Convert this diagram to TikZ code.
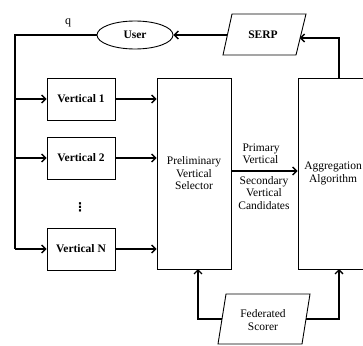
\documentclass[tikz,border=0pt]{standalone}
\usepackage{fontspec}
\setmainfont{Liberation Serif}
\newfontfamily\symfont{DejaVu Sans}
\usetikzlibrary{arrows.meta,shapes.geometric}
\tikzset{
  conn/.style={line width=1.5pt},
  arr/.style={line width=1.5pt,-{Straight Barb[length=4pt,width=8pt,line width=1.3pt]}},
  box/.style={draw,line width=0.9pt,align=center,font=\fontsize{11.5}{12.5}\selectfont},
  bbox/.style={box,font=\fontsize{11.5}{12.5}\selectfont\bfseries},
  para/.style={line width=0.9pt},
  lbl/.style={align=center,font=\fontsize{11.5}{12.5}\selectfont}
}
\begin{document}
\begin{tikzpicture}[x=1pt,y=-1pt]
\useasboundingbox[fill=white] (0,0) rectangle (363,345);
% nodes
\node[bbox,ellipse,minimum width=76pt,minimum height=28pt,inner sep=0pt] (user) at (135,35) {User};
\node[lbl,font=\fontsize{11.5}{12.5}\selectfont\bfseries] (serp) at (263,35) {SERP};
\draw[para] (223,55) -- (232,14) -- (306,14) -- (296,55) -- cycle;
\coordinate (serpL) at (227.4,35);
\coordinate (serpR) at (299.7,38);
\node[bbox,minimum width=68pt,minimum height=42pt] (v1) at (81,99) {Vertical 1};
\node[bbox,minimum width=68pt,minimum height=42pt] (v2) at (81,158) {Vertical 2};
\node[lbl,font=\fontsize{12}{12}\symfont\bfseries] (dots) at (80,207) {⋮};
\node[bbox,minimum width=68pt,minimum height=42pt] (vN) at (81,249) {Vertical N};
\node[box,minimum width=74pt,minimum height=191pt] (pre) at (194,173.5) {Preliminary\\Vertical\\Selector};
\node[box,minimum width=70pt,minimum height=191pt] (agg) at (333,173.5) {Aggregation\\Algorithm};
\node[lbl,align=left,anchor=west] (prim) at (239,154) {Primary\\Vertical};
\node[lbl] (sec) at (264,193) {Secondary\\Vertical\\Candidates};
\node[lbl] (fed) at (263,320) {Federated\\Scorer};
\draw[para] (218,344) -- (226,294) -- (310,294) -- (302,344) -- cycle;
\coordinate (fedL) at (222,319);
\coordinate (fedR) at (306,319);
\node[lbl,font=\fontsize{12}{12}\selectfont] (q) at (68,23) {q};
% connectors
\coordinate (tl) at (15,35);
\coordinate (bl) at (15,249);
\draw[conn] (user.west) -- (tl) -- (bl);
\draw[arr] (tl |- v1) -- (v1.west);
\draw[arr] (tl |- v2) -- (v2.west);
\draw[arr] (bl) -- (vN.west);
\draw[arr] (v1.east) -- (v1.east -| pre.west);
\draw[arr] (v2.east) -- (v2.east -| pre.west);
\draw[arr] (vN.east) -- (vN.east -| pre.west);
\draw[arr] (pre.east |- 0,171) -- (agg.west |- 0,171);
\draw[arr] (serpL) -- (user.east);
\draw[arr] (339,78) -- (339,38) -- (serpR);
\draw[arr] (fedL) -- (198,319) -- (198,269);
\draw[arr] (fedR) -- (339,319) -- (339,269);
\end{tikzpicture}
\end{document}
